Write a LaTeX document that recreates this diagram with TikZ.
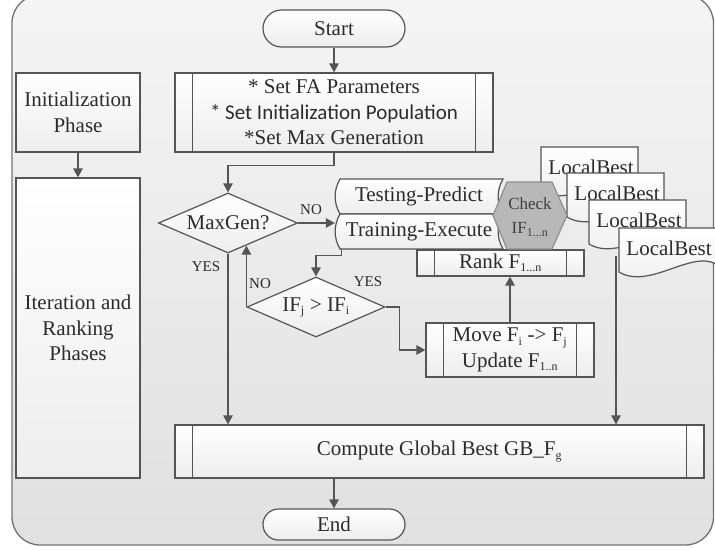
\documentclass[tikz,border=0pt]{standalone}
\usepackage{fontspec}
\setmainfont{Liberation Serif}
\newfontfamily\calibfont{Carlito}
\usetikzlibrary{arrows.meta,shapes.geometric}

\definecolor{edge}{HTML}{555555}
\definecolor{ink}{HTML}{2B2B2B}
\definecolor{framedge}{HTML}{727272}
\definecolor{hexfill}{HTML}{B8B8B8}
\definecolor{hexedge}{HTML}{8E8E8E}
\definecolor{hextext}{HTML}{3E3E3E}

% small text subscript
\newcommand\sub[1]{\textsubscript{\fontsize{12}{12}\selectfont #1}}

\tikzset{
  ln/.style={draw=edge, line width=1.3pt},
  arr/.style={ln, -{Triangle[length=9pt,width=9.5pt]}},
  boxshade/.style={top color=white, bottom color=black!7},
  txt/.style={text=ink, font=\fontsize{21}{25.5}\selectfont, align=center, inner sep=0pt},
  plainbox/.style={txt, rectangle, draw=edge, line width=1.2pt, boxshade},
  subproc/.style={plainbox, path picture={
      \draw[edge, line width=1.2pt]
        ([xshift=17.5pt]path picture bounding box.north west) -- ([xshift=17.5pt]path picture bounding box.south west)
        ([xshift=-17.5pt]path picture bounding box.north east) -- ([xshift=-17.5pt]path picture bounding box.south east);}},
  term/.style={plainbox},
  decision/.style={txt, diamond, draw=edge, line width=1.2pt, boxshade, aspect=2.3},
  shapeline/.style={draw=edge, line width=1.2pt, boxshade},
  lbl/.style={text=ink, font=\fontsize{15}{18}\selectfont, inner sep=0pt},
}

% document shape holding a "LocalBest" label, placed by its top-left corner
\newcommand\lbdoc[3]{%
  \begin{scope}[shift={(#2,#3)}]
    \draw[shapeline] (0,0) -- (97,0) -- (97,36) .. controls (72,22) and (30,62) .. (0,44) -- cycle;
    \node[txt] (#1) at (50,20) {LocalBest};
  \end{scope}}

% stored-data shape, placed by its top-left corner
\newcommand\stored[4]{%
  \begin{scope}[shift={(#2,#3)}]
    \draw[shapeline] (5,0) -- (168,0) .. controls (161.5,11) and (161.5,24) .. (168,35)
      -- (5,35) .. controls (-1.5,24) and (-1.5,11) .. (5,0) -- cycle;
    \node[txt, minimum width=168pt, minimum height=35pt] (#1) at (84,17.5) {#4};
  \end{scope}}

\begin{document}
\begin{tikzpicture}[x=1pt,y=-1pt]
\useasboundingbox (0,0) rectangle (715,549);

% outer frame
\draw[draw=framedge, line width=1.3pt, rounded corners=28pt, top color=black!4, bottom color=black!12]
  (12,-5) rectangle (713.5,545);

% phase column
\node[plainbox, minimum width=124pt, minimum height=79pt] (phaseA) at (78,112.5) {Initialization\\Phase};
\node[plainbox, minimum width=124pt, minimum height=300pt] (phaseB) at (78,328) {Iteration and\\Ranking\\Phases};

% main flow
\node[term, rounded corners=18.5pt, minimum width=142pt, minimum height=37pt] (start) at (334,28.5) {Start};
\node[subproc, minimum width=318pt, minimum height=79pt] (init) at (334,112.5)
  {* Set FA Parameters\\{\calibfont * Set Initialization Population}\\*Set Max Generation};
\node[decision, minimum width=139pt, minimum height=60pt] (maxgen) at (228,223) {MaxGen?};

\stored{testp}{335}{179}{Testing-Predict}
\stored{train}{335}{214}{Training-Execute}

\node[subproc, minimum width=167pt, minimum height=26pt] (rank) at (500.5,263) {Rank F\sub{1...n}};

\lbdoc{lbA}{541}{147}
\lbdoc{lbB}{567}{173}
\lbdoc{lbC}{589}{200}
\lbdoc{lbD}{619}{228}

% fitness check
\begin{scope}[shift={(493,182)}]
  \draw[draw=hexedge, line width=1.2pt, fill=hexfill]
    (0,33.5) -- (14,0) -- (59,0) -- (74,33.5) -- (59,67) -- (14,67) -- cycle;
  \node[txt, font=\fontsize{17}{24}\selectfont, text=hextext] (check) at (37,35) {Check\\IF\sub{1...n}};
\end{scope}

\node[decision, minimum width=138pt, minimum height=60pt] (ifd) at (316,307) {IF\sub{j} > IF\sub{i}};
\node[subproc, minimum width=168pt, minimum height=54pt] (move) at (510,350) {Move F\sub{i} -> F\sub{j}\\Update F\sub{1..n}};
\node[subproc, minimum width=529pt, minimum height=53pt] (gbest) at (439.5,451.5) {Compute Global Best GB\_F\sub{g}};
\node[term, rounded corners=15.5pt, minimum width=142pt, minimum height=31pt] (finish) at (334,524.5) {End};

\coordinate (lbout) at (616,256);

% connectors
\draw[arr] (phaseA) -- (phaseB);
\draw[arr] (start) -- (init);
\draw[arr] (init.south) -- ++(0,13) -| (maxgen.north);
\draw[arr] (maxgen.east) -- (maxgen.east -| train.west);
\draw[arr] ([xshift=7pt]train.south west) -- ++(0,6) -| (ifd.north);
\draw[arr] (ifd.west) -- (ifd.west |- maxgen.-51.6);
\draw[arr] (ifd.east) -- ++(14,0) |- (move.west);
\draw[arr] (move.north) -- (move.north |- rank.south);
\draw[arr] (maxgen.south) -- (maxgen.south |- gbest.north);
\draw[arr] (lbout) -- (lbout |- gbest.north);
\draw[arr] (finish.north |- gbest.south) -- (finish.north);

% branch labels
\node[lbl] (noA) at (311,210) {NO};
\node[lbl] (yesA) at (206,267) {YES};
\node[lbl] (noB) at (260,284) {NO};
\node[lbl] (yesB) at (368,282) {YES};
\end{tikzpicture}
\end{document}
